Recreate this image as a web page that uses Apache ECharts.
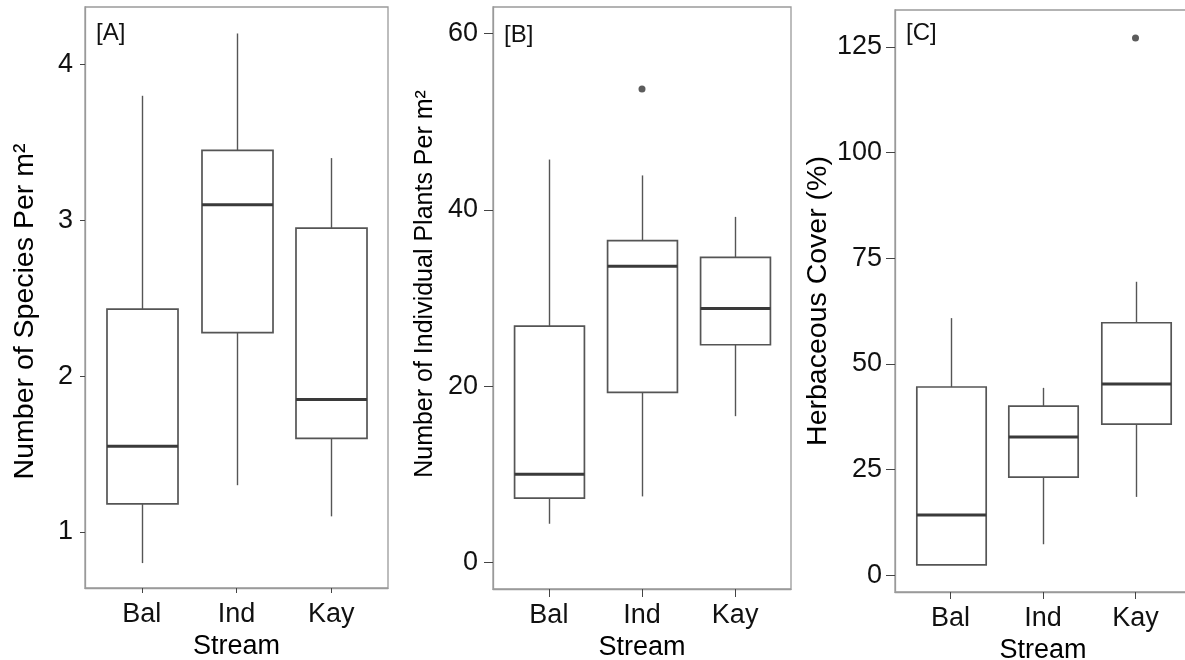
<!DOCTYPE html>
<html>
<head>
<meta charset="utf-8">
<script src="https://cdn.jsdelivr.net/npm/echarts@6/dist/echarts.min.js"></script>
<style>
  html, body { margin: 0; padding: 0; background: #fff; }
  #chart { width: 1185px; height: 660px; }
</style>
</head>
<body>
<div id="chart"></div>
<script>
// stream names on the x axis
var streams = ['Bal', 'Ind', 'Kay'];

// box stats per stream: [min, q1, median, q3, max]
var speciesStats = [
    [0.80, 1.18, 1.55, 2.43, 3.80],
    [1.30, 2.28, 3.10, 3.45, 4.20],
    [1.10, 1.60, 1.85, 2.95, 3.40]
];
var plantsStats = [
    [4.4, 7.3, 10.0, 26.8, 45.7],
    [7.5, 19.3, 33.6, 36.5, 43.9],
    [16.6, 24.7, 28.8, 34.6, 39.2]
];
var coverStats = [
    [2.4, 2.4, 14.2, 44.5, 60.8],
    [7.3, 23.2, 32.7, 40.0, 44.3],
    [18.5, 35.7, 45.2, 59.7, 69.4]
];

// outliers: [stream position, value]
var plantsOutliers = [[2, 53.7]];
var coverOutliers = [[3, 127.1]];

// tick labels
var speciesTicks = [1, 2, 3, 4];
var plantsTicks = [0, 20, 40, 60];
var coverTicks = [0, 25, 50, 75, 100, 125];

var FONT = 'Liberation Sans, Arial, sans-serif';
var BORDER = '#9a9a9a';
var LINE = '#555';

function boxData(stats) {
    return stats.map(function (s, i) {
        return [i + 1].concat(s);
    });
}

function renderBox(params, api) {
    var x = api.value(0);
    var half = api.size([0.75, 0])[0] / 2;
    var lo = api.coord([x, api.value(1)]);
    var q1 = api.coord([x, api.value(2)]);
    var md = api.coord([x, api.value(3)]);
    var q3 = api.coord([x, api.value(4)]);
    var hi = api.coord([x, api.value(5)]);
    var cx = Math.round(lo[0]) + 0.5;
    return {
        type: 'group',
        children: [
            { type: 'line', shape: { x1: cx, y1: q3[1], x2: cx, y2: hi[1] },
              style: { stroke: LINE, lineWidth: 1.4 } },
            { type: 'line', shape: { x1: cx, y1: lo[1], x2: cx, y2: q1[1] },
              style: { stroke: LINE, lineWidth: 1.4 } },
            { type: 'rect', shape: { x: cx - half, y: q3[1], width: half * 2, height: q1[1] - q3[1] },
              style: { fill: '#fff', stroke: LINE, lineWidth: 1.7 } },
            { type: 'line', shape: { x1: cx - half, y1: md[1], x2: cx + half, y2: md[1] },
              style: { stroke: '#3a3a3a', lineWidth: 3 } }
        ]
    };
}

function xAxisFor(idx, tickLen) {
    return {
        type: 'value', gridIndex: idx, min: 0.4, max: 3.6,
        name: 'Stream', nameLocation: 'middle', nameGap: 44,
        nameTextStyle: { fontFamily: FONT, fontSize: 27, color: '#000' },
        axisLine: { show: true, onZero: false, lineStyle: { color: BORDER, width: 1.3 } },
        axisTick: { show: true, customValues: [1, 2, 3], length: tickLen, lineStyle: { color: '#444' } },
        axisLabel: { customValues: [1, 2, 3], margin: 13, fontFamily: FONT, fontSize: 27, color: '#111',
            formatter: function (v) { return streams[Math.round(v) - 1]; } },
        splitLine: { show: false }
    };
}

// pad shifts the rotated title along the axis: [0, n, 0, 0] moves it down, [0, 0, 0, n] up
function yAxisFor(idx, min, max, ticks, title, size, pad, gap, tickLen, margin) {
    return {
        type: 'value', gridIndex: idx, min: min, max: max,
        name: title, nameLocation: 'middle', nameGap: gap,
        nameTextStyle: { fontFamily: FONT, fontSize: size, color: '#000', padding: pad },
        axisLine: { show: true, onZero: false, lineStyle: { color: BORDER, width: 1.3 } },
        axisTick: { show: true, customValues: ticks, length: tickLen, lineStyle: { color: '#444' } },
        axisLabel: { customValues: ticks, margin: margin, fontFamily: FONT, fontSize: 27, color: '#111' },
        splitLine: { show: false }
    };
}

function gridAt(left, top, width, height) {
    return {
        left: left, top: top, width: width, height: height,
        outerBoundsMode: 'none', containLabel: false,
        show: true, borderColor: BORDER, borderWidth: 1.3, backgroundColor: '#fff'
    };
}

var chart = echarts.init(document.getElementById('chart'));
var option = {
    animation: false,
    backgroundColor: '#fff',
    title: [
        { text: '[A]', left: 91, top: 16, textStyle: { fontFamily: FONT, fontSize: 24, fontWeight: 'normal', color: '#111' } },
        { text: '[B]', left: 499, top: 18, textStyle: { fontFamily: FONT, fontSize: 24, fontWeight: 'normal', color: '#111' } },
        { text: '[C]', left: 901, top: 16, textStyle: { fontFamily: FONT, fontSize: 24, fontWeight: 'normal', color: '#111' } }
    ],
    grid: [
        gridAt(85, 7, 303, 581),
        gridAt(493, 7, 298, 582),
        gridAt(895, 10, 296, 582)
    ],
    xAxis: [xAxisFor(0, 5), xAxisFor(1, 8), xAxisFor(2, 7)],
    yAxis: [
        yAxisFor(0, 0.64, 4.37, speciesTicks, 'Number of Species Per m²', 28.5, [0, 28, 0, 0], 45, 5, 12),
        yAxisFor(1, -3, 63, plantsTicks, 'Number of Individual Plants Per m²', 25, [0, 0, 0, 28], 55, 9, 15),
        yAxisFor(2, -4, 133.7, coverTicks, 'Herbaceous Cover (%)', 28.5, [0, 0, 0, 0], 57, 9, 13)
    ],
    series: [
        { type: 'custom', xAxisIndex: 0, yAxisIndex: 0, renderItem: renderBox, data: boxData(speciesStats), z: 2 },
        { type: 'custom', xAxisIndex: 1, yAxisIndex: 1, renderItem: renderBox, data: boxData(plantsStats), z: 2 },
        { type: 'custom', xAxisIndex: 2, yAxisIndex: 2, renderItem: renderBox, data: boxData(coverStats), z: 2 },
        { type: 'scatter', xAxisIndex: 1, yAxisIndex: 1, data: plantsOutliers, symbolSize: 7,
          itemStyle: { color: '#333' }, z: 3 },
        { type: 'scatter', xAxisIndex: 2, yAxisIndex: 2, data: coverOutliers, symbolSize: 7,
          itemStyle: { color: '#333' }, z: 3 }
    ]
};
chart.setOption(option);
window.addEventListener('resize', function () {
    chart.resize();
});
</script>
</body>
</html>
